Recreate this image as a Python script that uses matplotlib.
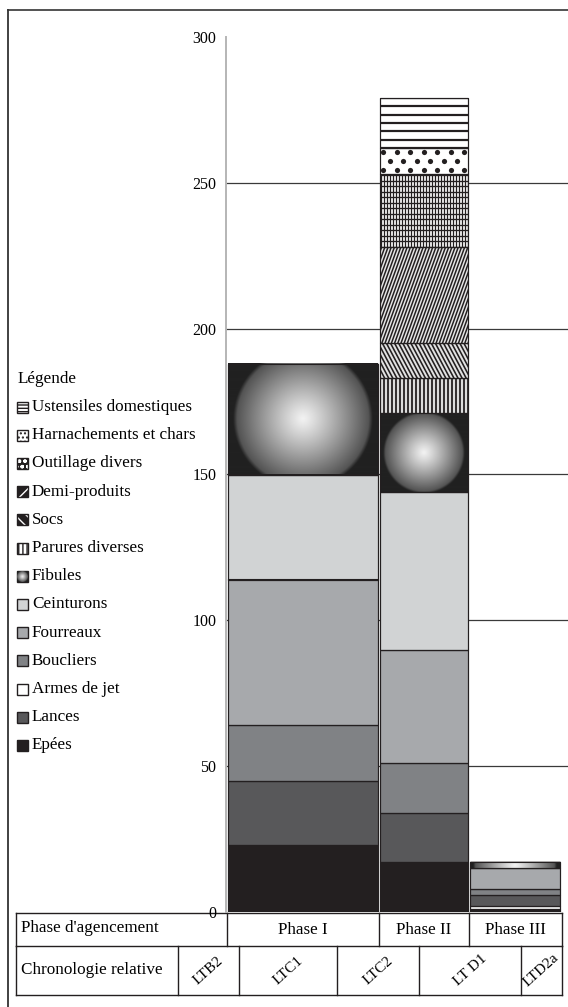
#!/usr/bin/env python3
"""Stacked bars of object categories by arrangement phase, with legend and chronology table."""
import numpy as np
import matplotlib
matplotlib.use("Agg")
import matplotlib.pyplot as plt
from matplotlib.patches import Rectangle
from matplotlib.collections import LineCollection

plt.rcParams['font.family'] = ['Liberation Serif', 'DejaVu Serif']

# ---- data -----------------------------------------------------------------
phases = ["Phase I", "Phase II", "Phase III"]
chrono_labels = ["LTB2", "LTC1", "LTC2", "LT D1", "LTD2a"]
y_ticks = [0, 50, 100, 150, 200, 250, 300]

# stacking order, bottom to top
categories = ["Epées", "Armes de jet", "Lances", "Boucliers", "Fourreaux",
              "Ceinturons", "Fibules", "Parures diverses", "Socs",
              "Demi-produits", "Outillage divers", "Harnachements et chars",
              "Ustensiles domestiques"]
epees = [23, 17, 1]
armes_de_jet = [0, 0, 1]
lances = [22, 17, 4]
boucliers = [19, 17, 2]
fourreaux = [50, 39, 7]
ceinturons = [36, 54, 0]
fibules = [38, 27, 2]
parures = [0, 12, 0]
socs = [0, 12, 0]
demi_produits = [0, 33, 0]
outillage = [0, 25, 0]
harnachements = [0, 9, 0]
ustensiles = [0, 17, 0]
series = [epees, armes_de_jet, lances, boucliers, fourreaux, ceinturons, fibules,
          parures, socs, demi_produits, outillage, harnachements, ustensiles]

# legend order, top to bottom
legend_order = ["Ustensiles domestiques", "Harnachements et chars", "Outillage divers",
                "Demi-produits", "Socs", "Parures diverses", "Fibules", "Ceinturons",
                "Fourreaux", "Boucliers", "Armes de jet", "Lances", "Epées"]

# ---- styling --------------------------------------------------------------
DARK = "#231f20"
FS = 12.3
solid = {"Epées": DARK, "Armes de jet": "#ffffff", "Lances": "#58585a",
         "Boucliers": "#808285", "Fourreaux": "#a7a9ac", "Ceinturons": "#d1d3d4",
         "Fibules": DARK, "Parures diverses": "#dcdcdc", "Socs": "#e2e2e2",
         "Demi-produits": "#e6e6e6", "Outillage divers": "#ffffff",
         "Harnachements et chars": "#ffffff", "Ustensiles domestiques": "#ffffff"}

W, H = 568, 1007
fig = plt.figure(figsize=(W / 100, H / 100), dpi=100)
fig.patch.set_facecolor("white")

# overlay axes in pixel units for frame, legend and table
ov = fig.add_axes([0, 0, 1, 1])
ov.set_xlim(0, W)
ov.set_ylim(H, 0)
ov.axis("off")
ov.patch.set_alpha(0)

# data axes
AX_L, AX_R, AX_T, AX_B = 226, 568, 37, 912
ax = fig.add_axes([AX_L / W, (H - AX_B) / H, (AX_R - AX_L) / W, (AX_B - AX_T) / H])
ax.patch.set_alpha(0)
ax.set_xlim(0, AX_R - AX_L)
ax.set_ylim(0, 300)
PPY = (AX_B - AX_T) / 300.0  # pixels per count unit

bar_left = [2, 154, 244]
bar_width = [150, 88, 90]


def to_px(x, y):
    return x, y * PPY


def stripes(rect, x0, x1, y0, y1, angle, period, lw_px, color="#231f20"):
    """Parallel lines (pixel-space angle/period) clipped to a bar segment."""
    X0, Y0 = to_px(x0, y0)
    X1, Y1 = to_px(x1, y1)
    th = np.deg2rad(angle)
    d = np.array([np.cos(th), np.sin(th)])
    n = np.array([-np.sin(th), np.cos(th)])
    c = np.array([(X0 + X1) / 2, (Y0 + Y1) / 2])
    corners = np.array([[X0, Y0], [X1, Y0], [X0, Y1], [X1, Y1]]) - c
    proj = corners @ n
    L = np.hypot(X1 - X0, Y1 - Y0)
    segs = []
    for k in np.arange(proj.min() - period, proj.max() + period, period):
        p = c + k * n
        a, b = p - L * d, p + L * d
        segs.append([(a[0], a[1] / PPY), (b[0], b[1] / PPY)])
    lc = LineCollection(segs, colors=color, linewidths=lw_px * 0.72, zorder=3)
    ax.add_collection(lc)
    lc.set_clip_path(rect)


def dots(rect, x0, x1, y0, y1):
    X0, Y0 = to_px(x0, y0)
    X1, Y1 = to_px(x1, y1)
    xs, ys = [], []
    for i, yy in enumerate(np.arange(Y1 - 4, Y0, -9.0)):
        off = 0 if i % 2 == 0 else 6.75
        for xx in np.arange(X0 + 3 + off, X1, 13.5):
            xs.append(xx)
            ys.append(yy / PPY)
    sc = ax.scatter(xs, ys, s=14, color=DARK, linewidths=0, zorder=3)
    sc.set_clip_path(rect)


def radial(axis, x0, x1, y0, y1, ppy, R, zorder=3):
    wpx, hpx = (x1 - x0), abs(y1 - y0) * ppy
    nx, ny = max(int(wpx * 2), 4), max(int(hpx * 2), 4)
    xs = np.linspace(-wpx / 2, wpx / 2, nx)
    ys = np.linspace(-hpx / 2, hpx / 2, ny)
    Xg, Yg = np.meshgrid(xs, ys)
    r = np.sqrt(Xg ** 2 + Yg ** 2) / R
    inner = 0.95 - 0.62 * r ** 1.1
    edge = np.clip((1.06 - r) / 0.06, 0, 1)
    v = np.where(r <= 1, inner, 0.33 + (0.13 - 0.33) * (1 - edge))
    v = np.where(r > 1.06, 0.13, v)
    axis.imshow(v, cmap="gray", vmin=0, vmax=1, extent=(x0, x1, y0, y1),
                aspect="auto", interpolation="bilinear", zorder=zorder)


# gridlines
for t in y_ticks[1:-1]:
    ax.axhline(t, color="#3a3a3a", lw=0.9, zorder=0)

bottoms = np.zeros(len(phases))
for cat, vals in zip(categories, series):
    vals = np.array(vals, dtype=float)
    bars = ax.bar(bar_left, vals, width=bar_width, bottom=bottoms, align="edge",
                  color=solid[cat], edgecolor=DARK, linewidth=0.8, zorder=2)
    for i, rect in enumerate(bars.patches):
        if vals[i] <= 0:
            continue
        x0, x1 = bar_left[i], bar_left[i] + bar_width[i]
        y0, y1 = bottoms[i], bottoms[i] + vals[i]
        if cat == "Fibules":
            radial(ax, x0, x1, y0, y1, PPY, 0.44 * bar_width[i])
        elif cat == "Parures diverses":
            stripes(rect, x0, x1, y0, y1, 90, 4.0, 1.8)
        elif cat == "Socs":
            stripes(rect, x0, x1, y0, y1, 118, 3.6, 1.6)
        elif cat == "Demi-produits":
            stripes(rect, x0, x1, y0, y1, 70, 3.0, 1.5)
        elif cat == "Outillage divers":
            stripes(rect, x0, x1, y0, y1, 90, 3.0, 1.3)
            stripes(rect, x0, x1, y0, y1, 0, 5.5, 1.3)
        elif cat == "Harnachements et chars":
            dots(rect, x0, x1, y0, y1)
        elif cat == "Ustensiles domestiques":
            stripes(rect, x0, x1, y0, y1, 0, 8.3, 2.2)
        ax.add_patch(Rectangle((x0, y0), x1 - x0, y1 - y0, fill=False,
                               edgecolor=DARK, lw=0.8, zorder=4))
    bottoms += vals

ax.set_xlim(0, AX_R - AX_L)
ax.set_ylim(0, 300)
ax.set_yticks(y_ticks)
ax.set_yticklabels([str(t) for t in y_ticks], fontsize=11.5)
ax.tick_params(axis="y", length=0, pad=7)
ax.set_xticks([])
for s in ["top", "right", "bottom"]:
    ax.spines[s].set_visible(False)
ax.spines["left"].set_color("#b5b5b5")
ax.spines["left"].set_linewidth(1.4)

# ---- outer frame ----------------------------------------------------------
ov.plot([8, W], [10, 10], color="#444444", lw=1.3)
ov.plot([8, 8], [10, H], color="#333333", lw=1.3)

# ---- legend ---------------------------------------------------------------
ov.text(18, 379, "Légende", fontsize=FS, va="center", ha="left")
leg_hatch = {"Ustensiles domestiques": ("white", DARK, "-----"),
             "Harnachements et chars": ("white", DARK, "...."),
             "Outillage divers": (DARK, "white", "ooo"),
             "Demi-produits": (DARK, "white", "//"),
             "Socs": (DARK, "white", "\\\\\\"),
             "Parures diverses": ("white", DARK, "||||")}
for j, name in enumerate(legend_order):
    yc = 407 + j * 28.2
    bx, bw = 17, 11
    if name in leg_hatch:
        fc, hc, hp = leg_hatch[name]
        ov.add_patch(Rectangle((bx, yc - bw / 2), bw, bw, facecolor=fc,
                               edgecolor=hc, hatch=hp, lw=0))
    elif name == "Fibules":
        radial(ov, bx, bx + bw, yc + bw / 2, yc - bw / 2, 1.0, 5.5)
    else:
        ov.add_patch(Rectangle((bx, yc - bw / 2), bw, bw, facecolor=solid[name], lw=0))
    ov.add_patch(Rectangle((bx, yc - bw / 2), bw, bw, fill=False, edgecolor=DARK, lw=1.0))
    ov.text(32, yc, name, fontsize=FS, va="center", ha="left")
ov.set_xlim(0, W)
ov.set_ylim(H, 0)

# ---- table ----------------------------------------------------------------
TL, TR = 16, 562
row_y = [913, 946, 995]
for yy in row_y:
    ov.plot([TL, TR], [yy, yy], color=DARK, lw=1.0)
phase_edges = [TL, 227, 379, 469, TR]
chrono_edges = [TL, 178, 239, 337, 419, 521, TR]
for xx in phase_edges:
    ov.plot([xx, xx], [row_y[0], row_y[1]], color=DARK, lw=1.0)
for xx in chrono_edges:
    ov.plot([xx, xx], [row_y[1], row_y[2]], color=DARK, lw=1.0)
ov.text(21, (row_y[0] + row_y[1]) / 2 - 1, "Phase d'agencement", fontsize=FS,
        va="center", ha="left")
ov.text(21, (row_y[1] + row_y[2]) / 2, "Chronologie relative", fontsize=FS,
        va="center", ha="left")
for k, name in enumerate(phases):
    ov.text((phase_edges[k + 1] + phase_edges[k + 2]) / 2, (row_y[0] + row_y[1]) / 2 + 1,
            name, fontsize=FS, va="center", ha="center")
for k, name in enumerate(chrono_labels):
    ov.text((chrono_edges[k + 1] + chrono_edges[k + 2]) / 2, (row_y[1] + row_y[2]) / 2,
            name, fontsize=11, va="center", ha="center", rotation=42)

fig.savefig("out.png", dpi=100, facecolor="white")
